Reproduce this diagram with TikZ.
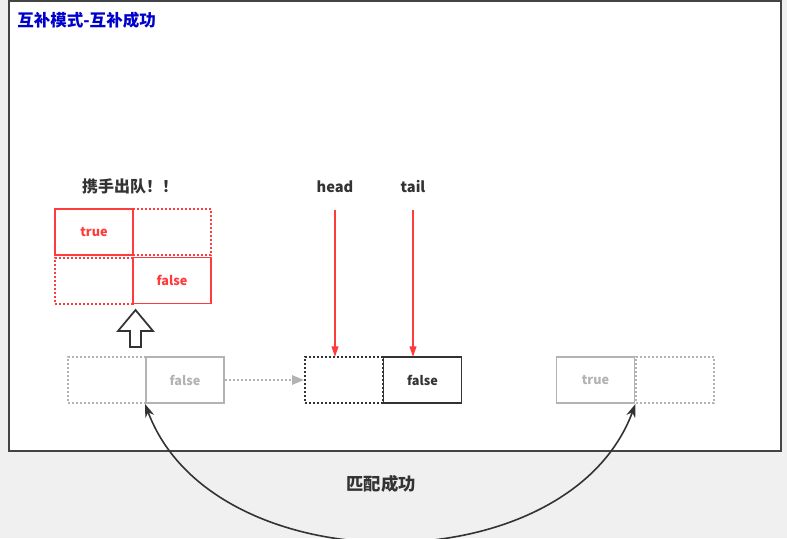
\documentclass[tikz,border=0pt]{standalone}
\usepackage{fontspec}
\setmainfont{Noto Sans CJK SC}
\usetikzlibrary{arrows.meta}
\definecolor{bgc}{HTML}{F0F0F0}
\definecolor{framec}{HTML}{444444}
\definecolor{titleblue}{HTML}{0000CC}
\definecolor{redc}{HTML}{FF3B3B}
\definecolor{grayc}{HTML}{B3B3B3}
\definecolor{darkc}{HTML}{333333}
\tikzset{
  cell/.style={minimum width=58.5pt, minimum height=34.5pt, inner sep=0pt, font=\fontsize{9.5}{10}\selectfont\bfseries, line width=1.4pt},
  dotline/.style={line width=1.5pt, dash pattern=on 1.5pt off 1.5pt},
  redsolid/.style={cell, draw=redc, text=redc},
  reddot/.style={cell, draw=redc, dotline},
  graysolid/.style={cell, draw=grayc, text=grayc},
  graydot/.style={cell, draw=grayc, dotline},
  darksolid/.style={cell, draw=darkc, text=darkc},
  darkdot/.style={cell, draw=darkc, dotline},
  lbl/.style={font=\fontsize{11}{13}\selectfont\bfseries, text=darkc, inner sep=0pt},
  redarrow/.style={draw=redc, line width=1.4pt, -{Triangle[length=8pt,width=5pt]}},
}
\begin{document}
\begin{tikzpicture}[x=0.75pt,y=-0.75pt]
\fill[bgc] (0,0) rectangle (787,538);
\useasboundingbox (0,0) rectangle (787,538);
\draw[framec, fill=white, line width=1.5pt] (8.5,1.5) rectangle (780.5,451);
\node[anchor=west, inner sep=0pt, text=titleblue, font=\fontsize{12.4}{14}\selectfont\bfseries] (title) at (17,20) {互补模式-互补成功};

\node[lbl, font=\fontsize{12}{14}\selectfont\bfseries] (together) at (130,186) {携手出队！！};
\node[redsolid] (rtl) at (94,232) {true};
\node[reddot] (rtr) at (172,232) {};
\node[reddot] (rbl) at (94,280.5) {};
\node[redsolid] (rbr) at (172,280.5) {false};

% hollow up arrow
\draw[darkc, line width=1.3pt, fill=white, line join=miter] (135.5,310) -- (153,331) -- (141,331) -- (141,347) -- (130,347) -- (130,331) -- (118,331) -- cycle;

\node[graydot] (gd) at (107,380) {};
\node[graysolid] (gf) at (185,380) {false};
\node[darkdot] (md) at (344,380) {};
\node[darksolid] (mf) at (422.5,380) {false};
\node[graysolid] (rt) at (595.5,380) {true};
\node[graydot] (rd) at (674.5,380) {};

\draw[grayc, dotline, -{Triangle[length=9pt,width=7pt]}] (gf.east) -- (md.west);

\node[lbl] (head) at (335,187) {head};
\node[lbl] (tail) at (413,187) {tail};
\coordinate (h1) at (335,210);
\coordinate (h2) at (335,357);
\coordinate (t1) at (413,210);
\coordinate (t2) at (413,357);
\draw[redarrow] (h1) -- (h2);
\draw[redarrow] (t1) -- (t2);

\draw[darkc, line width=1.2pt, {Stealth[length=10pt,width=7pt]}-{Stealth[length=10pt,width=7pt]}] (gf.south west) .. controls (213,586) and (568,586) .. (rt.south east);
\node[lbl, font=\fontsize{13}{15}\selectfont\bfseries] (match) at (381,484) {匹配成功};
\end{tikzpicture}
\end{document}
